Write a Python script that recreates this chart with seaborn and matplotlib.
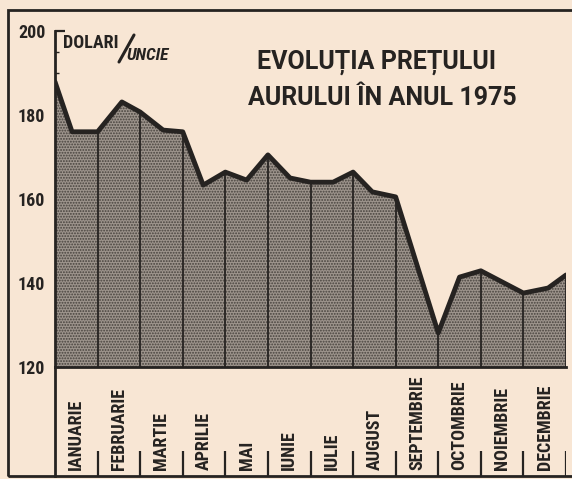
import numpy as np
import matplotlib
matplotlib.use("Agg")
import matplotlib.pyplot as plt
import seaborn as sns
from matplotlib.patches import Rectangle
from matplotlib.lines import Line2D

# data: position in the year (months, 0 = start of Jan)
months = ["IANUARIE", "FEBRUARIE", "MARTIE", "APRILIE", "MAI", "IUNIE",
          "IULIE", "AUGUST", "SEPTEMBRIE", "OCTOMBRIE", "NOIEMBRIE", "DECEMBRIE"]
pos = [0.0, 0.4, 1.0, 1.57, 2.0, 2.54, 3.0, 3.48, 4.0, 4.5, 5.0, 5.52,
       6.0, 6.53, 7.0, 7.45, 8.0, 9.0, 9.5, 10.0, 11.0, 11.58, 12.0]
price = [187.9, 176.0, 176.0, 183.1, 180.7, 176.4, 176.0, 163.3, 166.4, 164.5,
         170.5, 165.0, 164.0, 164.0, 166.4, 161.7, 160.5, 128.1, 141.4, 142.9,
         137.6, 138.8, 141.9]
yticks = [120, 140, 160, 180, 200]
title_lines = ["EVOLUȚIA PREȚULUI", "AURULUI ÎN ANUL 1975"]

paper = "#f8e6d4"
ink = "#262321"

sns.set_theme(style="white")
plt.rcParams["font.family"] = ["Roboto Condensed", "Open Sans Condensed", "DejaVu Sans"]
plt.rcParams["hatch.linewidth"] = 0.9

W, H = 572, 479


def box(x0, y0, x1, y1):
    return [x0 / W, 1 - y1 / H, (x1 - x0) / W, (y1 - y0) / H]


fig = plt.figure(figsize=(W / 100, H / 100), dpi=100, facecolor=paper)
ax = fig.add_axes(box(55, 31, 566, 367))
strip = fig.add_axes(box(55, 367, 566, 476))
for a in (ax, strip):
    a.set_facecolor("none")

# shaded area + line
ax.fill_between(pos, price, 120, facecolor="#9d948c", hatch="......",
                edgecolor="#46413c", linewidth=0)
bounds = np.arange(1, 13)
ax.vlines(bounds, 120, np.interp(bounds, pos, price), color=ink, lw=1.3)
sns.lineplot(x=pos, y=price, ax=ax, color=ink, linewidth=3.5, sort=False)

ax.set_xlim(0, 12)
ax.set_ylim(120, 200)
ax.set_xticks([])
ax.set_yticks(yticks)
ax.set_yticks(np.arange(120, 201, 5), minor=True)
ax.set_yticklabels([str(t) for t in yticks], fontsize=13, fontweight="bold", color=ink)
ax.tick_params(axis="y", which="major", direction="in", length=7, width=1.6,
               color=ink, pad=7, left=True)
ax.tick_params(axis="y", which="minor", direction="in", length=3, width=1,
               color=ink, left=True)
ax.set_xlabel("")
ax.set_ylabel("")
for s in ("top", "right"):
    ax.spines[s].set_visible(False)
for s in ("left", "bottom"):
    ax.spines[s].set_linewidth(2)
    ax.spines[s].set_color(ink)

# month strip
strip.set_xlim(0, 12)
strip.set_ylim(0, 1)
strip.set_xticks([])
strip.set_yticks([])
for s in ("top", "right", "bottom"):
    strip.spines[s].set_visible(False)
strip.spines["left"].set_linewidth(2)
strip.spines["left"].set_color(ink)
strip.vlines(bounds, 0, 0.23, color=ink, lw=1.6)
for i, m in enumerate(months):
    strip.text(i + 0.5, 0.055, m, rotation=90, ha="center", va="bottom",
               fontsize=13, fontweight="bold", color=ink)

# outer frame of the clipping
fig.add_artist(Rectangle((8 / W, 1 - 476 / H), 1.2, (476 - 10) / H,
                         transform=fig.transFigure, fill=False, lw=2, edgecolor=ink))

# titles and unit
fig.text(377 / W, 1 - 62 / H, title_lines[0], ha="center", va="center",
         fontsize=18, fontweight="bold", color=ink, family=["Roboto", "DejaVu Sans"])
fig.text(382 / W, 1 - 98 / H, title_lines[1], ha="center", va="center",
         fontsize=18, fontweight="bold", color=ink, family=["Roboto", "DejaVu Sans"])
fig.text(63 / W, 1 - 43 / H, "DOLARI", ha="left", va="center",
         fontsize=13, fontweight="bold", color=ink)
fig.add_artist(Line2D([119 / W, 134 / W], [1 - 62 / H, 1 - 35 / H],
                      transform=fig.transFigure, color=ink, lw=2.2))
fig.text(127 / W, 1 - 55 / H, "UNCIE", ha="left", va="center",
         fontsize=12.5, fontstyle="italic", fontweight="bold", color=ink)

fig.savefig("out.png", dpi=100, facecolor=paper)
